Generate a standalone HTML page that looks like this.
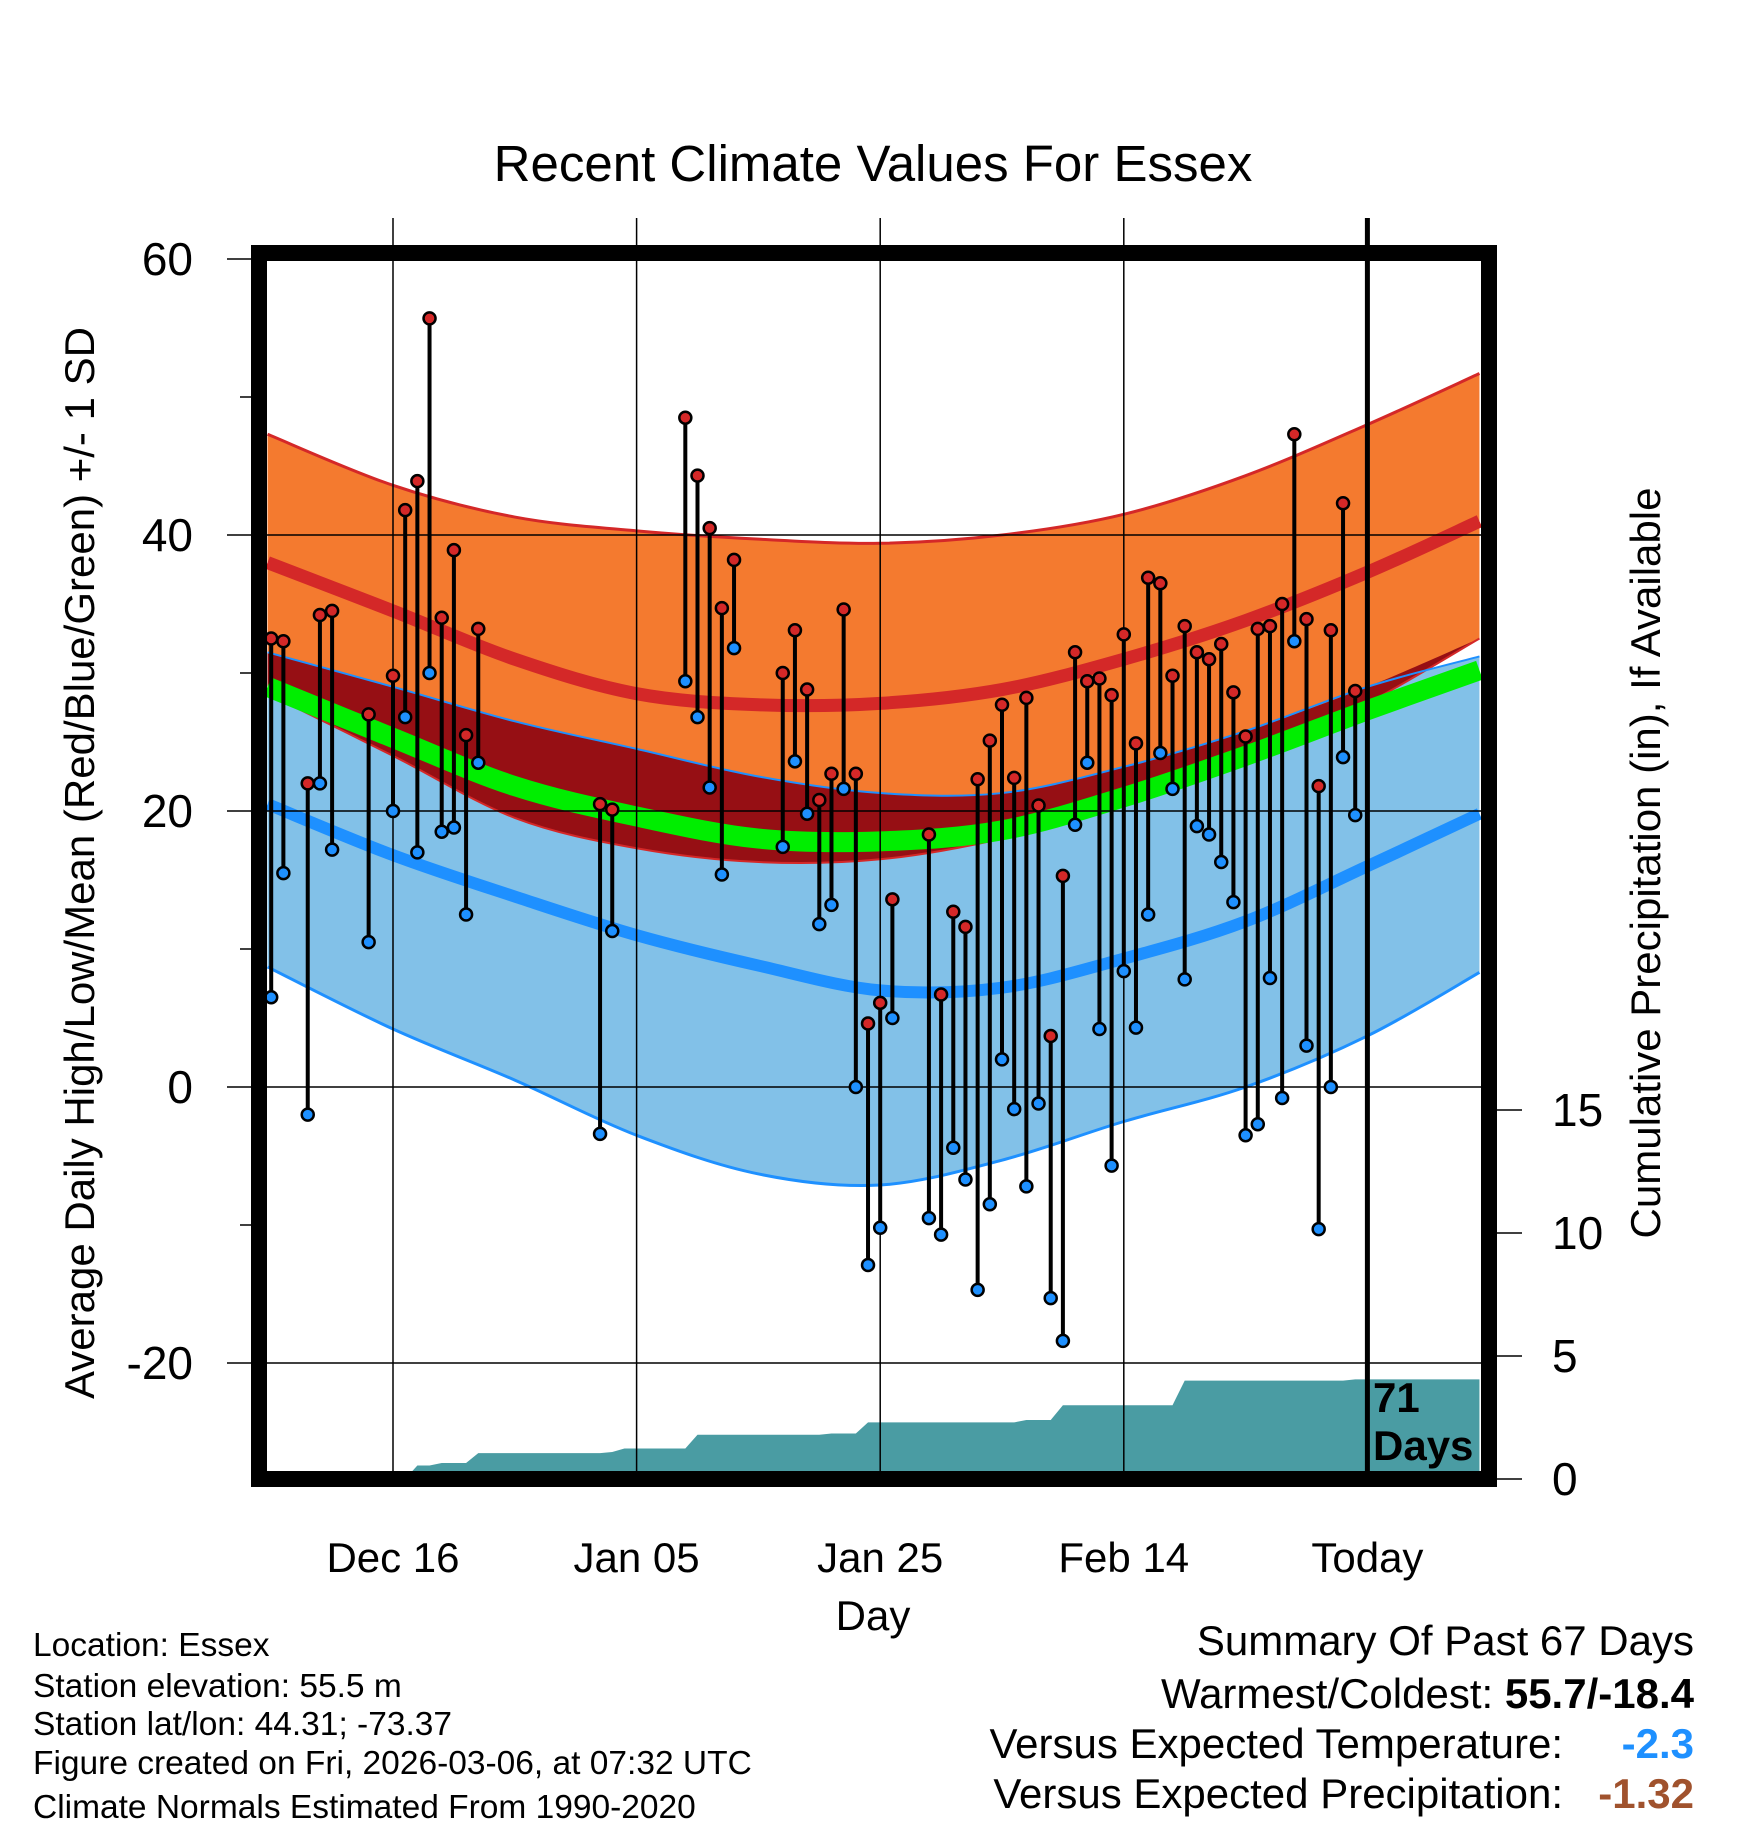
<!DOCTYPE html>
<html><head><meta charset="utf-8"><style>
html,body{margin:0;padding:0;background:#fff}
svg{display:block}
text{font-family:"Liberation Sans",sans-serif}
</style></head><body>
<svg id="chart" width="1748" height="1828" viewBox="0 0 1748 1828">
<defs><clipPath id="plotclip"><rect x="267" y="261" width="1214" height="1218"/></clipPath></defs>
<text x="873" y="181" font-size="51" text-anchor="middle">Recent Climate Values For Essex</text>
<g id="grid"></g>
<g id="plot" clip-path="url(#plotclip)"></g>
<g id="overlay"></g>
<rect x="259" y="253" width="1230" height="1226" fill="none" stroke="#000" stroke-width="16"/>
<g id="axes"></g>
<text transform="translate(94,863) rotate(-90)" font-size="42" text-anchor="middle">Average Daily High/Low/Mean (Red/Blue/Green) +/- 1 SD</text>
<text transform="translate(1660,863) rotate(-90)" font-size="42" text-anchor="middle">Cumulative Precipitation (in), If Available</text>
<text x="873" y="1630" font-size="42" text-anchor="middle">Day</text>
<g font-size="33.5">
<text x="33" y="1656">Location: Essex</text>
<text x="33" y="1697">Station elevation: 55.5 m</text>
<text x="33" y="1735">Station lat/lon: 44.31; -73.37</text>
<text x="33" y="1774">Figure created on Fri, 2026-03-06, at 07:32 UTC</text>
<text x="33" y="1818">Climate Normals Estimated From 1990-2020</text>
</g>
<g font-size="42" text-anchor="end">
<text x="1694" y="1655">Summary Of Past 67 Days</text>
<text x="1694" y="1708">Warmest/Coldest: <tspan font-weight="bold">55.7/-18.4</tspan></text>
<text x="1563" y="1758">Versus Expected Temperature:</text>
<text x="1694" y="1758" font-weight="bold" fill="#1e90ff">-2.3</text>
<text x="1563" y="1808">Versus Expected Precipitation:</text>
<text x="1694" y="1808" font-weight="bold" fill="#a0522d">-1.32</text>
</g>
</svg>
<script>
// normals sampled at day offsets (relative to Dec 16)
const normDays   = [-10.3, 0, 10, 20, 30, 40, 50, 60, 70, 80, 89.2];
const upperHigh  = [47.3, 43.6, 41.3, 40.3, 39.7, 39.4, 40.0, 41.5, 44.3, 48.0, 51.7];
const meanHigh   = [38, 34.5, 31, 28.5, 27.7, 27.8, 28.8, 31, 33.8, 37.3, 41];
const lowerHigh  = [28.5, 24, 19.5, 17.3, 16.3, 16.5, 18.0, 20.5, 23.5, 27.8, 32.5];
const upperLow   = [31.5, 29, 26.5, 24.5, 22.5, 21.3, 21.3, 23.2, 25.8, 29, 31.2];
const meanTemp   = [29, 25.3, 21.8, 19.6, 18.0, 17.8, 18.6, 21, 24, 27.3, 30.2];
const meanLow    = [20.5, 16.8, 13.8, 11, 8.8, 7, 7.2, 9.3, 12, 16, 19.8];
const lowerLow   = [8.7, 4.2, 0.5, -3.5, -6.3, -7.1, -5.3, -2.5, 0, 3.7, 8.3];
// observations
const obsDays  = [-10,-9,-7,-6,-5,-2,0,1,2,3,4,5,6,7,17,18,24,25,26,27,28,32,33,34,35,36,37,38,39,40,41,44,45,46,47,48,49,50,51,52,53,54,55,56,57,58,59,60,61,62,63,64,65,66,67,68,69,70,71,72,73,74,75,76,77,78,79];
const obsHigh  = [32.5,32.3,22,34.2,34.5,27,29.8,41.8,43.9,55.7,34,38.9,25.5,33.2,20.5,20.1,48.5,44.3,40.5,34.7,38.2,30,33.1,28.8,20.8,22.7,34.6,22.7,4.6,6.1,13.6,18.3,6.7,12.7,11.6,22.3,25.1,27.7,22.4,28.2,20.4,3.7,15.3,31.5,29.4,29.6,28.4,32.8,24.9,36.9,36.5,29.8,33.4,31.5,31,32.1,28.6,25.4,33.2,33.4,35,47.3,33.9,21.8,33.1,42.3,28.7];
const obsLow   = [6.5,15.5,-2,22,17.2,10.5,20,26.8,17,30,18.5,18.8,12.5,23.5,-3.4,11.3,29.4,26.8,21.7,15.4,31.8,17.4,23.6,19.8,11.8,13.2,21.6,0,-12.9,-10.2,5,-9.5,-10.7,-4.4,-6.7,-14.7,-8.5,2,-1.6,-7.2,-1.2,-15.3,-18.4,19,23.5,4.2,-5.7,8.4,4.3,12.5,24.2,21.6,7.8,18.9,18.3,16.3,13.4,-3.5,-2.7,7.9,-0.8,32.3,3,-10.3,0,23.9,19.7];
// cumulative precipitation, change points (day, inches)
const precipDays = [-10.3,1,2,3,4,6,7,17,18,19,24,25,35,36,38,39,51,52,54,55,64,65,78,79,89.2];
const precipVals = [0,0,0.55,0.55,0.65,0.65,1.05,1.05,1.1,1.24,1.24,1.8,1.8,1.85,1.85,2.3,2.3,2.4,2.4,3.0,3.0,4.0,4.0,4.05,4.05];
const tempTicks = [60,40,20,0,-20];
const minorTicks = [50,30,10,-10];
const precipTicks = [15,10,5,0];
const dateLabels = ["Dec 16","Jan 05","Jan 25","Feb 14","Today"];
const dateDays = [0,20,40,60,80];

const NS="http://www.w3.org/2000/svg";
const X = d => 393 + d*12.18;
const Y = t => 259 + (60-t)*13.8;
const YP = p => 1479 - p*24.6;
function mk(tag, attrs, parent){const e=document.createElementNS(NS,tag);for(const k in attrs)e.setAttribute(k,attrs[k]);parent.appendChild(e);return e;}
function pts(days, vals){return days.map((d,i)=>[X(d),Y(vals[i])]);}
function curve(p){
  let s="M"+p[0][0]+","+p[0][1];
  for(let i=0;i<p.length-1;i++){
    const p0=p[Math.max(0,i-1)],p1=p[i],p2=p[i+1],p3=p[Math.min(p.length-1,i+2)];
    const c1=[p1[0]+(p2[0]-p0[0])/6,p1[1]+(p2[1]-p0[1])/6];
    const c2=[p2[0]-(p3[0]-p1[0])/6,p2[1]-(p3[1]-p1[1])/6];
    s+=" C"+c1[0]+","+c1[1]+" "+c2[0]+","+c2[1]+" "+p2[0]+","+p2[1];
  }
  return s;
}
function band(top,bot){
  const t=curve(pts(normDays,top));
  const b=curve(pts(normDays,bot).reverse()).replace(/^M/,"L");
  return t+" "+b+" Z";
}
const plot=document.getElementById('plot'), grid=document.getElementById('grid'), axes=document.getElementById('axes'), overlay=document.getElementById('overlay');

let pp="M"+X(precipDays[0])+","+YP(0);
precipDays.forEach((d,i)=>{pp+=" L"+X(d)+","+YP(precipVals[i]);});
pp+=" L"+X(precipDays[precipDays.length-1])+","+YP(0)+" Z";
let e=mk('path',{d:pp,fill:'#4a9ca3'},plot);



e=mk('path',{d:band(upperLow,lowerLow),fill:'#82c1e8'},plot);


e=mk('path',{d:band(upperHigh,lowerHigh),fill:'#f47a2f'},plot);


const ovTop=upperLow.map((v,i)=>Math.max(v,lowerHigh[i]));
e=mk('path',{d:band(ovTop,lowerHigh),fill:'#960f14'},plot);


[[upperHigh,'#d42828',3,'upper-high-edge'],[lowerHigh,'#d42828',2,'lower-high-edge'],[upperLow,'#1e90ff',2,'upper-low-edge'],[lowerLow,'#1e90ff',3,'lower-low-edge']].forEach(a=>{
  const l=mk('path',{d:curve(pts(normDays,a[0])),fill:'none',stroke:a[1],'stroke-width':a[2]},plot);
  
  
});
[[meanTemp,'#00ee00',20,'mean-temp-line'],[meanHigh,'#d42828',13,'mean-high-line'],[meanLow,'#1e90ff',12,'mean-low-line']].forEach(a=>{
  const l=mk('path',{d:curve(pts(normDays,a[0])),fill:'none',stroke:a[1],'stroke-width':a[2]},plot);
  
  
});

tempTicks.forEach(t=>{
  const l=mk('line',{x1:267,x2:1481,y1:Y(t),y2:Y(t),stroke:'#000','stroke-width':1.5},plot);
  
  
});
dateDays.forEach((d,i)=>{
  const l=mk('line',{x1:X(d),x2:X(d),y1:218,y2:1487,stroke:'#000','stroke-width':i===4?5:1.5},overlay);
  
  
  const t=mk('text',{x:X(d),y:1572,'font-size':42,'text-anchor':'middle'},axes);
  t.textContent=dateLabels[i];
  
  
});

obsDays.forEach((d,i)=>{
  const g=mk('g',{},overlay);
  
  
  const l=mk('line',{x1:X(d),x2:X(d),y1:Y(obsHigh[i]),y2:Y(obsLow[i]),stroke:'#000','stroke-width':4},g);
  
  
  const h=mk('circle',{cx:X(d),cy:Y(obsHigh[i]),r:6,fill:'#d42828',stroke:'#000','stroke-width':2.5},g);
  
  
  const lo=mk('circle',{cx:X(d),cy:Y(obsLow[i]),r:6,fill:'#1e90ff',stroke:'#000','stroke-width':2.5},g);
  
  
});

e=mk('text',{x:1373,y:1412,'font-size':42,'font-weight':'bold'},overlay);
e.textContent='71';


e=mk('text',{x:1373,y:1460,'font-size':42,'font-weight':'bold'},overlay);
e.textContent='Days';



tempTicks.forEach(t=>{
  const l=mk('line',{x1:227,x2:252,y1:Y(t),y2:Y(t),stroke:'#000','stroke-width':1.5},axes);
  
  
  const tx=mk('text',{x:193,y:Y(t)+16,'font-size':46,'text-anchor':'end'},axes);
  tx.textContent=t;
  
  
});
minorTicks.forEach(t=>{
  const l=mk('line',{x1:240,x2:252,y1:Y(t),y2:Y(t),stroke:'#000','stroke-width':1.5},axes);
  
  
});
precipTicks.forEach(p=>{
  const l=mk('line',{x1:1497,x2:1522,y1:YP(p),y2:YP(p),stroke:'#000','stroke-width':1.5},axes);
  
  
  const tx=mk('text',{x:1552,y:YP(p)+16,'font-size':46},axes);
  tx.textContent=p;
  
  
});
</script>
</body></html>
